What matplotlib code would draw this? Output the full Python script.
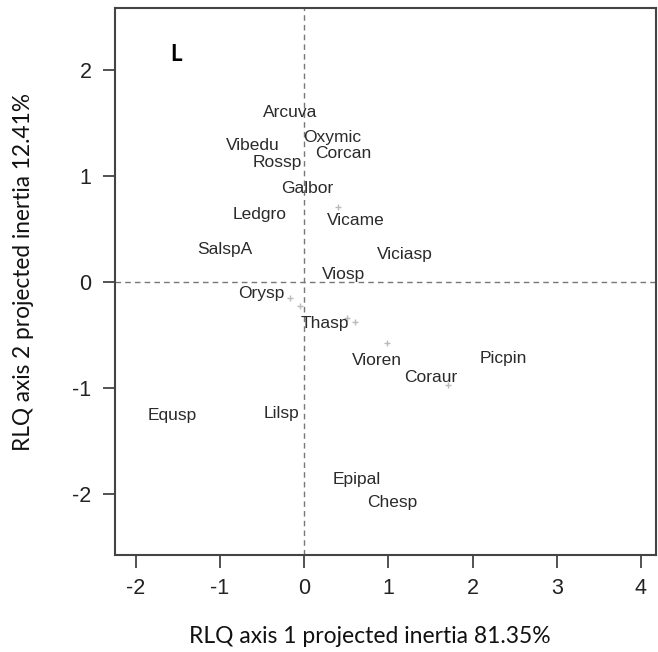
import matplotlib.pyplot as plt

plt.rcParams['axes.unicode_minus'] = False

# species scores on RLQ axes (label positions)
species = ['Arcuva', 'Oxymic', 'Vibedu', 'Rossp', 'Corcan', 'Galbor', 'Ledgro',
           'Vicame', 'SalspA', 'Viciasp', 'Viosp', 'Orysp', 'Thasp', 'Vioren',
           'Coraur', 'Picpin', 'Equsp', 'Lilsp', 'Epipal', 'Chesp']
ax1 = [-0.17, 0.33, -0.61, -0.32, 0.46, 0.04, -0.53, 0.61, -0.94, 1.20,
       0.47, -0.51, 0.25, 0.87, 1.50, 2.37, -1.57, -0.27, 0.63, 1.05]
ax2 = [1.60, 1.36, 1.29, 1.13, 1.21, 0.88, 0.64, 0.58, 0.31, 0.26,
       0.07, -0.11, -0.39, -0.74, -0.90, -0.72, -1.26, -1.24, -1.86, -2.08]

# faint point markers visible under the labels
pt_x = [0.40, -0.17, -0.05, 0.51, 0.61, 0.99, 1.71]
pt_y = [0.71, -0.15, -0.23, -0.34, -0.38, -0.58, -0.97]

fig = plt.figure(figsize=(6.58, 6.52), dpi=100)
ax = fig.add_axes([0.175, 0.149, 0.822, 0.839])

ax.axhline(0, color='#777777', lw=1, ls=(0, (4, 3)), zorder=1)
ax.axvline(0, color='#777777', lw=1, ls=(0, (4, 3)), zorder=1)

ax.scatter(pt_x, pt_y, marker='+', s=18, color='#bbbbbb', lw=1, zorder=2)

for name, x, y in zip(species, ax1, ax2):
    ax.text(x, y, name, ha='center', va='center', fontsize=12.5,
            family='Liberation Sans', color='#2a2a2a', zorder=3)

ax.text(-1.52, 2.14, 'L', ha='center', va='center', fontsize=16,
        fontweight='bold', family='Lato', color='black')

ax.set_xlim(-2.245, 4.18)
ax.set_ylim(-2.575, 2.585)
ax.set_xticks([-2, -1, 0, 1, 2, 3, 4])
ax.set_yticks([-2, -1, 0, 1, 2])
ax.tick_params(length=9, width=1.3, color='#444444', labelsize=15.5, pad=8)
for lab in ax.get_xticklabels() + ax.get_yticklabels():
    lab.set_family('Liberation Sans')
    lab.set_color('#222222')
for s in ax.spines.values():
    s.set_color('#444444')
    s.set_linewidth(1.5)

ax.set_xlabel('RLQ axis 1 projected inertia 81.35%', family='Lato',
              fontsize=16.5, color='#111111')
ax.set_ylabel('RLQ axis 2 projected inertia 12.41%', family='Lato',
              fontsize=16.3, color='#111111')
ax.xaxis.set_label_coords(0.47, -0.13)
ax.yaxis.set_label_coords(-0.15, 0.517)

plt.savefig('out.png', dpi=100)
